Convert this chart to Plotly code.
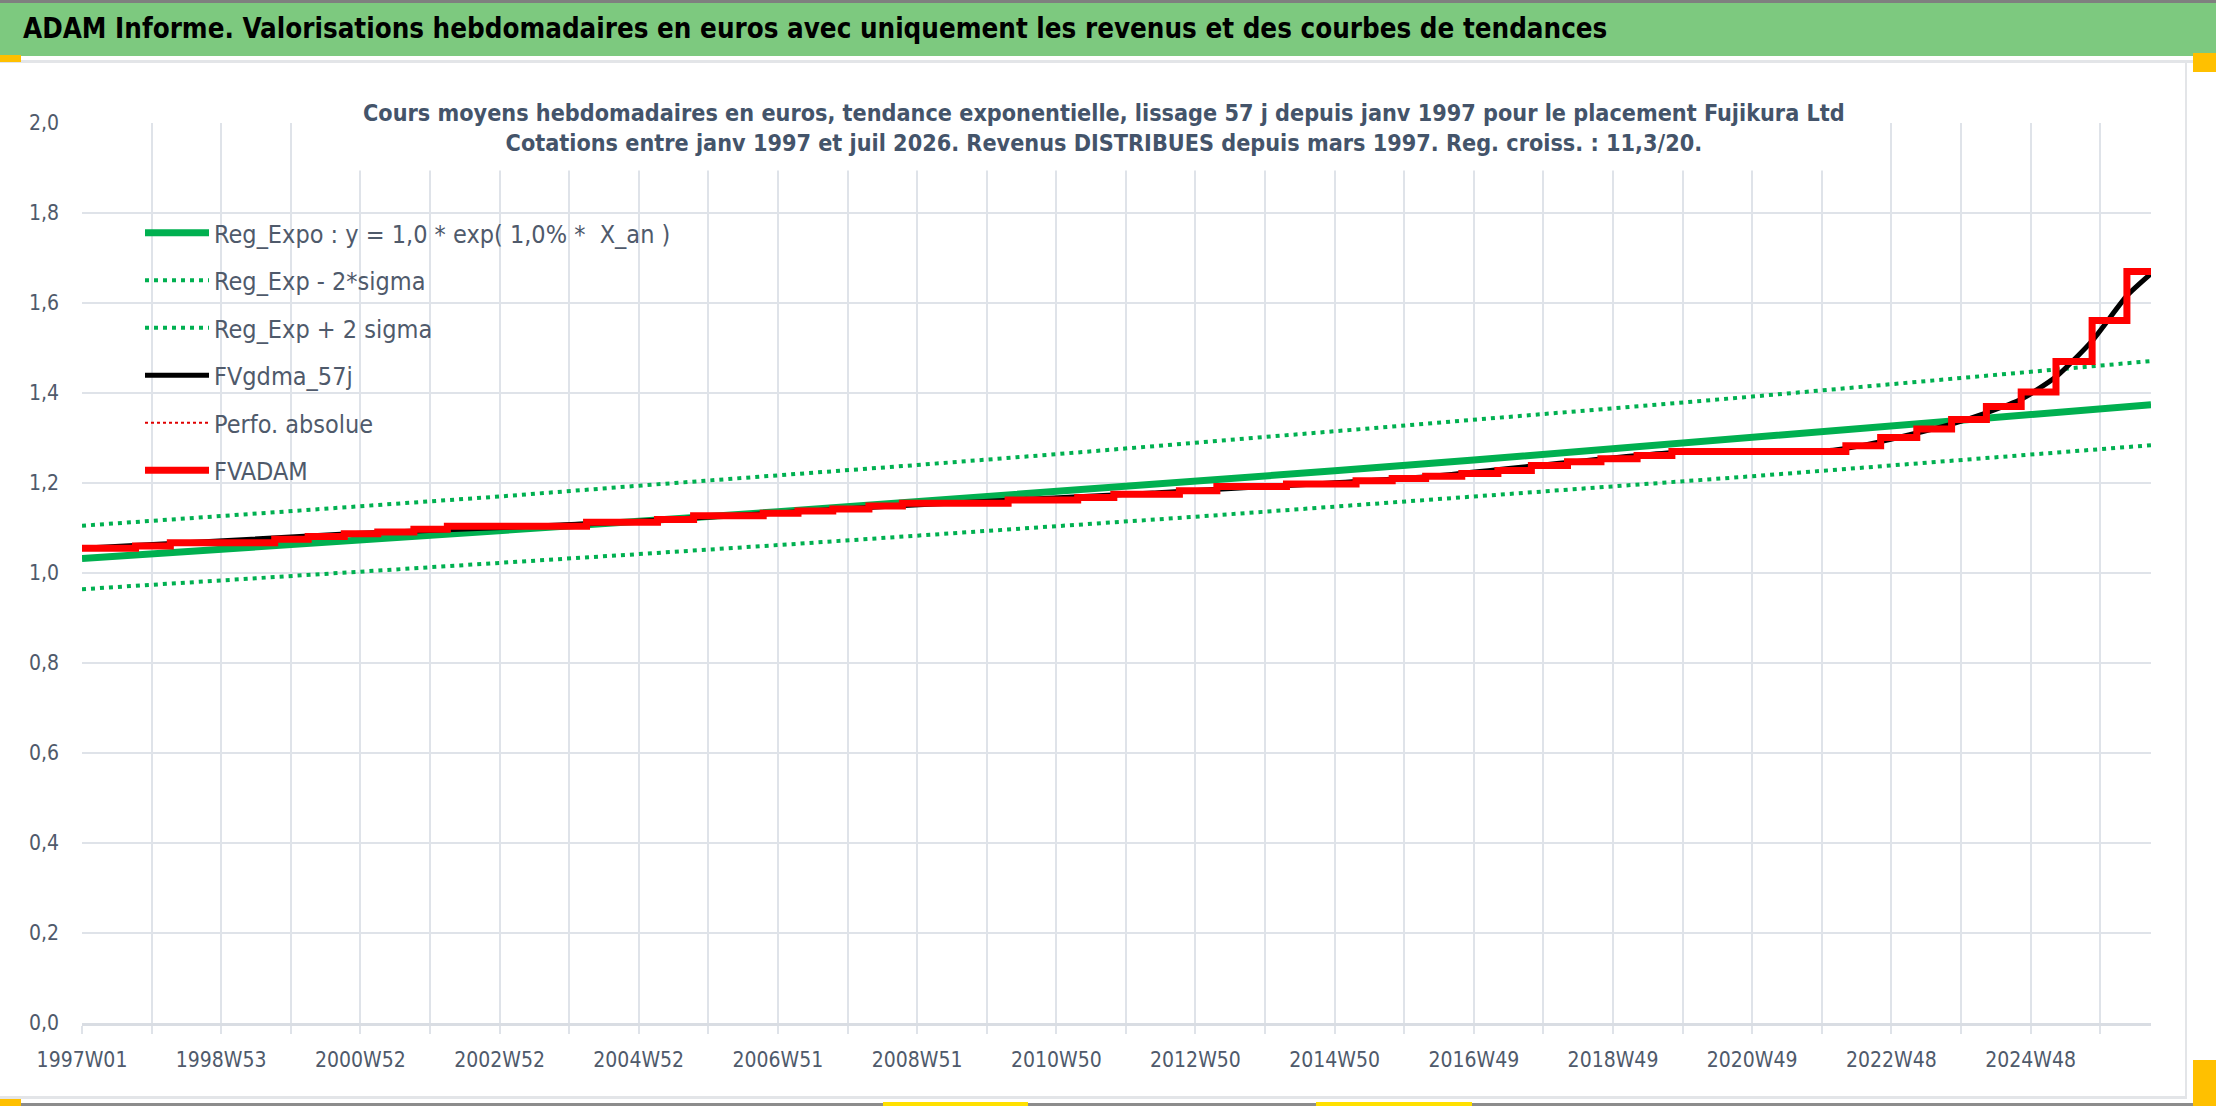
import plotly.graph_objects as go

# x axis = week index counted from 1997W01 (Excel category axis)
n_weeks = 1547
tick_labels = ["1997W01", "1998W53", "2000W52", "2002W52", "2004W52", "2006W51",
               "2008W51", "2010W50", "2012W50", "2014W50", "2016W49", "2018W49",
               "2020W49", "2022W48", "2024W48"]

# regression exponentielle et bandes +/- 2 sigma (lues toutes les 104 semaines + fin)
trend_weeks = [0, 104, 208, 312, 416, 520, 624, 728, 832, 936, 1040, 1144, 1248, 1352, 1456, 1546]
reg_expo = [1.032, 1.052, 1.073, 1.093, 1.115, 1.136, 1.158, 1.181, 1.204, 1.227,
            1.251, 1.276, 1.300, 1.326, 1.351, 1.374]
reg_low = [0.964, 0.983, 1.003, 1.021, 1.042, 1.062, 1.082, 1.104, 1.125, 1.147,
           1.169, 1.192, 1.215, 1.239, 1.262, 1.284]
reg_high = [1.105, 1.126, 1.149, 1.170, 1.194, 1.216, 1.240, 1.264, 1.289, 1.314,
            1.339, 1.366, 1.392, 1.419, 1.446, 1.471]

# FVADAM : paliers (semaine du versement, niveau apres versement)
adam_weeks = [0, 40, 66, 144, 169, 196, 221, 248, 273, 377, 430, 457, 509, 535, 561,
              588, 613, 692, 744, 771, 820, 848, 900, 952, 979, 1004, 1031, 1058, 1083,
              1110, 1135, 1162, 1188, 1318, 1344, 1371, 1397, 1423, 1449, 1475, 1502,
              1528, 1546]
adam_values = [1.055, 1.060, 1.067, 1.075, 1.081, 1.087, 1.091, 1.097, 1.104, 1.113,
               1.119, 1.127, 1.133, 1.138, 1.142, 1.149, 1.155, 1.162, 1.168, 1.175,
               1.183, 1.192, 1.198, 1.205, 1.210, 1.215, 1.221, 1.228, 1.239, 1.247,
               1.254, 1.261, 1.270, 1.283, 1.301, 1.320, 1.341, 1.370, 1.402, 1.470,
               1.561, 1.670, 1.670]

# FVgdma_57j : moyenne lissee
gdma_weeks = [0, 200, 400, 600, 800, 1000, 1190, 1300, 1318, 1344, 1371, 1397, 1423,
              1449, 1475, 1502, 1528, 1546]
gdma_values = [1.055, 1.087, 1.112, 1.148, 1.178, 1.213, 1.268, 1.271, 1.277, 1.292,
               1.311, 1.331, 1.356, 1.386, 1.436, 1.516, 1.616, 1.665]

W, H = 2216, 1106
L, R, T, B = 82, 65, 123, 83
PW, PH = W - L - R, H - T - B


def px(x):
    return (x - L) / PW


def py(y):
    return (H - B - y) / PH


GREEN = "#00B050"
TXT = "#4F5A6B"
GRID = "#DFE3E9"
FONT = "DejaVu Sans Condensed, Open Sans, sans-serif"


def band(x0, y0, x1, y1, color):
    return dict(type="rect", xref="paper", yref="paper", x0=px(x0), x1=px(x1),
                y0=py(y1), y1=py(y0), fillcolor=color, line=dict(width=0), layer="above")


fig = go.Figure()
fig.add_trace(go.Scatter(x=trend_weeks, y=reg_expo, mode="lines", legendgroup="a",
                         name="Reg_Expo : y = 1,0 * exp( 1,0% *  X_an )",
                         line=dict(color=GREEN, width=7)))
fig.add_trace(go.Scatter(x=trend_weeks, y=reg_low, mode="lines", legendgroup="b",
                         name="Reg_Exp - 2*sigma",
                         line=dict(color=GREEN, width=4, dash="4px,5px")))
fig.add_trace(go.Scatter(x=trend_weeks, y=reg_high, mode="lines", legendgroup="c",
                         name="Reg_Exp + 2 sigma",
                         line=dict(color=GREEN, width=4, dash="4px,5px")))
fig.add_trace(go.Scatter(x=gdma_weeks, y=gdma_values, mode="lines", legendgroup="d",
                         name="FVgdma_57j", line=dict(color="black", width=5, shape="spline",
                                                      smoothing=0.6)))
fig.add_trace(go.Scatter(x=adam_weeks, y=adam_values, mode="lines", legendgroup="e",
                         name="Perfo. absolue",
                         line=dict(color="#E00000", width=2, dash="dot", shape="hv")))
fig.add_trace(go.Scatter(x=adam_weeks, y=adam_values, mode="lines", legendgroup="f",
                         name="FVADAM", line=dict(color="#FF0000", width=7, shape="hv")))

tickvals = list(range(0, n_weeks, 52))
ticktext = [tick_labels[i // 2] if i % 2 == 0 else "" for i in range(len(tickvals))]

fig.update_xaxes(range=[0, n_weeks - 1], tickvals=tickvals, ticktext=ticktext,
                 showgrid=True, gridcolor=GRID, gridwidth=1.5, ticks="outside",
                 ticklen=8, tickcolor=GRID, tickwidth=1.5, showline=True,
                 linecolor="#D9DDE3", linewidth=3, zeroline=False,
                 tickfont=dict(size=21, color=TXT, family=FONT), ticklabelstandoff=8)
fig.update_yaxes(range=[0, 2], dtick=0.2, tickformat=".1f", showgrid=True,
                 gridcolor=GRID, gridwidth=2, zeroline=False, ticks="",
                 tickfont=dict(size=21, color=TXT, family=FONT), ticklabelstandoff=22)

shapes = [
    band(0, 0, W, 3, "#7F7F7F"),
    band(0, 3, W, 56, "#7DC97F"),
    band(0, 60, W, 63, "#E3E5E8"),
    band(2185, 63, 2187, 1097, "#E3E5E8"),
    band(0, 1096, 2187, 1099, "#E3E5E8"),
    band(0, 1103, W, H, "#8C8C8C"),
    band(0, 55, 21, 62, "#FFC000"),
    band(2193, 53, W, 72, "#FFC000"),
    band(0, 1099, 21, H, "#FFC000"),
    band(2193, 1060, W, H, "#FFC000"),
    band(883, 1102, 1028, H, "#FFE000"),
    band(1316, 1102, 1472, H, "#FFE000"),
]

annotations = [
    dict(text="<b>ADAM Informe. Valorisations hebdomadaires en euros avec uniquement les revenus et des courbes de tendances</b>",
         x=px(21), y=py(28), xref="paper", yref="paper", xanchor="left", yanchor="middle",
         showarrow=False, font=dict(size=27.5, color="black", family=FONT)),
    dict(text="<b>Cours moyens hebdomadaires en euros, tendance exponentielle, lissage 57 j depuis janv 1997 pour le placement Fujikura Ltd</b><br>"
              "<b>Cotations entre janv 1997 et juil 2026. Revenus DISTRIBUES depuis mars 1997. Reg. croiss. : 11,3/20.</b>",
         x=px(1104), y=py(128), xref="paper", yref="paper", xanchor="center", yanchor="middle",
         showarrow=False, bgcolor="white", borderpad=14,
         font=dict(size=23.2, color="#44546A", family=FONT)),
]

fig.update_layout(
    width=W, height=H, margin=dict(l=L, r=R, t=T, b=B),
    paper_bgcolor="white", plot_bgcolor="white", separators=", ",
    font=dict(family=FONT, color=TXT),
    shapes=shapes, annotations=annotations,
    legend=dict(x=px(140), y=py(210), xanchor="left", yanchor="top",
                bgcolor="rgba(0,0,0,0)", tracegroupgap=12, itemwidth=64,
                font=dict(size=25, color=TXT, family=FONT)),
)

fig.write_html("out.html", config={"displayModeBar": False},
               post_script="document.body.style.margin='0';")
